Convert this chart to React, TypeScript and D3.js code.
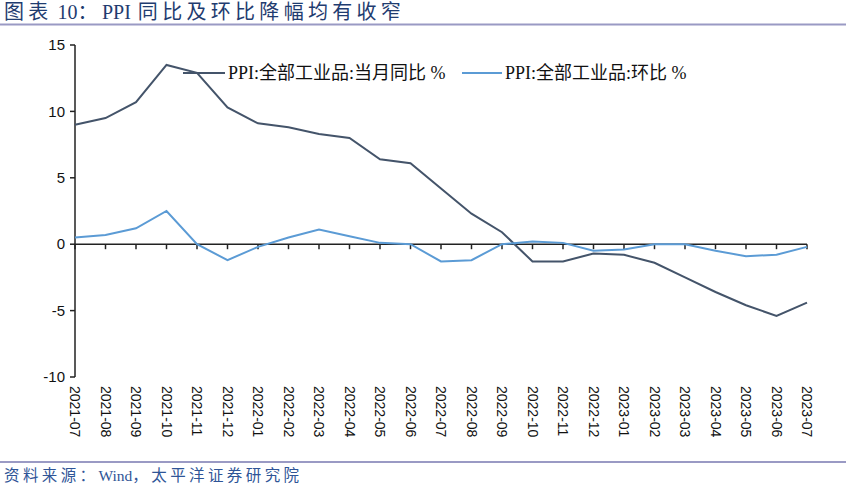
import React from "react";
import * as d3 from "d3";

const months = [
  "2021-07","2021-08","2021-09","2021-10","2021-11","2021-12",
  "2022-01","2022-02","2022-03","2022-04","2022-05","2022-06",
  "2022-07","2022-08","2022-09","2022-10","2022-11","2022-12",
  "2023-01","2023-02","2023-03","2023-04","2023-05","2023-06","2023-07",
];
const yoy = [9.0,9.5,10.7,13.5,12.9,10.3,9.1,8.8,8.3,8.0,6.4,6.1,4.2,2.3,0.9,-1.3,-1.3,-0.7,-0.8,-1.4,-2.5,-3.6,-4.6,-5.4,-4.4];
const mom = [0.5,0.7,1.2,2.5,0.0,-1.2,-0.2,0.5,1.1,0.6,0.1,0.0,-1.3,-1.2,0.0,0.2,0.1,-0.5,-0.4,0.0,0.0,-0.5,-0.9,-0.8,-0.2];
const yTicks = [15,10,5,0,-5,-10];
const seriesNames = ["PPI:全部工业品:当月同比 %", "PPI:全部工业品:环比 %"];
const colors = ["#44546A", "#5B9BD5"];

const W = 846, H = 502;
const left = 75, right = 807, top = 45, bottom = 377;

export default function App() {
  const x = d3.scalePoint<string>().domain(months).range([left, right]);
  const y = d3.scaleLinear().domain([-10, 15]).range([bottom, top]);
  const line = d3.line<number>().x((_, i) => x(months[i])!).y((d) => y(d));
  const y0 = y(0);
  const mixed = "'Liberation Serif','Noto Sans CJK SC',serif";
  const axisFont = "'Liberation Sans',Arial,sans-serif";
  return (
    <svg width={W} height={H} style={{ position: "absolute", left: 0, top: 0, background: "#fff" }}>
      <text x={4} y={19} fontSize={20} fill="#1F3C70" style={{ fontFamily: mixed }}>
        <tspan letterSpacing={4.3}>图表</tspan>
        <tspan dx={5}>10</tspan>
        <tspan letterSpacing={4.3}>：</tspan>
        <tspan>PPI</tspan>
        <tspan dx={7} letterSpacing={4.3}>同比及环比降幅均有收窄</tspan>
      </text>
      <line x1={0} x2={W} y1={24.5} y2={24.5} stroke="#9A9AC4" strokeWidth={2} />

      {/* y axis */}
      <line x1={left} x2={left} y1={top} y2={bottom} stroke="#222" strokeWidth={1.5} />
      {yTicks.map((t) => (
        <g key={t}>
          <line x1={left - 5} x2={left} y1={y(t)} y2={y(t)} stroke="#222" strokeWidth={1.5} />
          <text x={left - 10} y={y(t)} dy="0.35em" textAnchor="end" fontSize={15} fontFamily={axisFont} fill="#111">
            {t}
          </text>
        </g>
      ))}
      {/* x axis at 0 */}
      <line x1={left} x2={right} y1={y0} y2={y0} stroke="#222" strokeWidth={1.5} />
      {months.map((m) => (
        <line key={m} x1={x(m)} x2={x(m)} y1={y0} y2={y0 + 5} stroke="#222" strokeWidth={1.5} />
      ))}
      {months.map((m) => (
        <text
          key={"l" + m}
          transform={`translate(${x(m)! - 5},${bottom + 9}) rotate(90)`}
          fontSize={14}
          fontFamily={axisFont}
          fill="#111"
        >
          {m}
        </text>
      ))}

      <path d={line(yoy)!} fill="none" stroke={colors[0]} strokeWidth={2} />
      <path d={line(mom)!} fill="none" stroke={colors[1]} strokeWidth={2} />

      {/* legend */}
      <line x1={183} x2={225} y1={73} y2={73} stroke={colors[0]} strokeWidth={2} />
      <text x={228} y={79} fontSize={18} fill="#111" style={{ fontFamily: mixed }}>
        {seriesNames[0]}
      </text>
      <line x1={462} x2={502} y1={73} y2={73} stroke={colors[1]} strokeWidth={2} />
      <text x={505} y={79} fontSize={18} fill="#111" style={{ fontFamily: mixed }}>
        {seriesNames[1]}
      </text>

      <line x1={0} x2={W} y1={462} y2={462} stroke="#9A9AC4" strokeWidth={2} />
      <text x={4} y={481} fontSize={15.5} fill="#2F5597" style={{ fontFamily: mixed }}>
        <tspan letterSpacing={3.4}>资料来源：</tspan>
        <tspan>Wind</tspan>
        <tspan letterSpacing={3.4}>，太平洋证券研究院</tspan>
      </text>
    </svg>
  );
}
